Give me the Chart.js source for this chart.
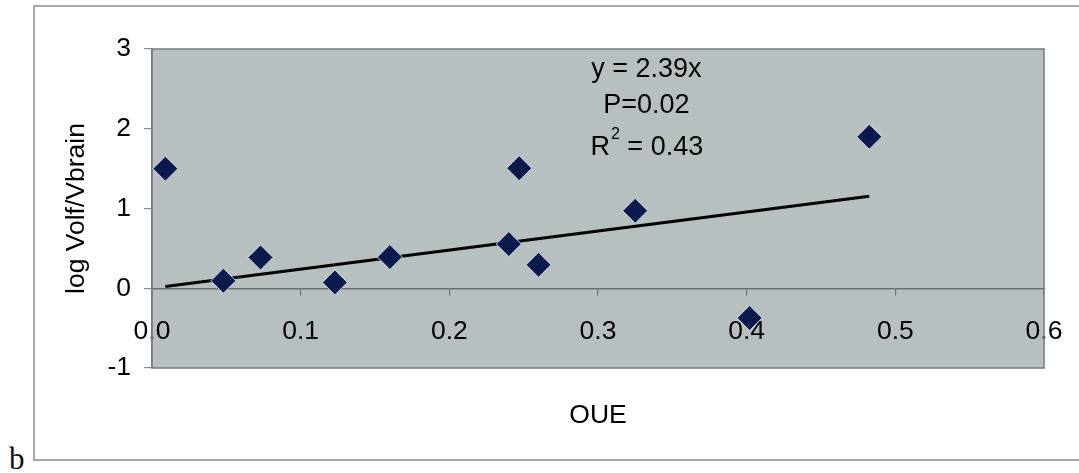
<!DOCTYPE html>
<html><head><meta charset="utf-8">
<script src="https://cdn.jsdelivr.net/npm/chart.js@4/dist/chart.umd.min.js"></script>
<style>
html,body{margin:0;padding:0;background:#fff;overflow:hidden;width:1079px;height:473px;}
#frame{position:absolute;left:33px;top:5px;width:1100px;height:456px;border:2px solid #a8a8a8;border-right:none;box-sizing:border-box;}
#lbl{position:absolute;left:9px;top:443px;font-family:'Liberation Serif','Times New Roman',serif;font-size:31px;line-height:31px;color:#111;}
canvas{position:absolute;left:0;top:0;}
</style></head><body>
<div id="frame"></div>
<div id="lbl">b</div>
<canvas id="c" width="1079" height="473" style="width:1079px;height:473px"></canvas>
<script>
// Data
const oueValues     = [0.009, 0.048, 0.073, 0.123, 0.160, 0.240, 0.247, 0.260, 0.325, 0.402, 0.4825];
const logVolfValues = [1.50, 0.094, 0.386, 0.073, 0.391, 0.554, 1.506, 0.294, 0.971, -0.373, 1.90];
const trendSlope = 2.39;
const xTickLabels = ['0.0', '0.1', '0.2', '0.3', '0.4', '0.5', '0.6'];
const yTickLabels = ['-1', '0', '1', '2', '3'];
const annotationLines = ['y = 2.39x', 'P=0.02', 'R2 = 0.43'];
const xTitle = 'OUE';
const yTitle = 'log Volf/Vbrain';

const FONT = "'Liberation Sans', Arial, Helvetica, sans-serif";
Chart.defaults.font.family = FONT;
Chart.defaults.color = '#000';

const xMinData = Math.min(...oueValues), xMaxData = Math.max(...oueValues);
const trendPoints = [
  {x: xMinData, y: trendSlope * xMinData},
  {x: xMaxData, y: trendSlope * xMaxData}
];

const plotPlugin = {
  id: 'plotArea',
  beforeDraw(chart) {
    const {ctx, chartArea: a} = chart;
    ctx.save();
    ctx.fillStyle = '#b8bfc1';
    ctx.fillRect(a.left, a.top, a.right - a.left, a.bottom - a.top);
    ctx.restore();
  },
  beforeDatasetsDraw(chart) {
    const {ctx, chartArea: a} = chart;
    ctx.save();
    ctx.strokeStyle = '#7a7a7a';
    ctx.lineWidth = 1.5;
    ctx.strokeRect(a.left, a.top, a.right - a.left, a.bottom - a.top);
    ctx.restore();
  },
  afterDraw(chart) {
    const {ctx} = chart;
    const xs = chart.scales.x, ys = chart.scales.y;
    const cx = xs.getPixelForValue(0.3325);
    const rowsY = [2.74, 2.29, 1.77].map(v => ys.getPixelForValue(v));
    ctx.save();
    ctx.fillStyle = '#000';
    ctx.textBaseline = 'middle';
    ctx.font = `27px ${FONT}`;
    ctx.textAlign = 'center';
    ctx.fillText(annotationLines[0], cx, rowsY[0]);
    ctx.fillText(annotationLines[1], cx, rowsY[1]);
    // R² line with superscript
    const t = annotationLines[2];
    const base = t.charAt(0), sup = t.charAt(1), rest = t.slice(2);
    ctx.textAlign = 'left';
    ctx.font = `27px ${FONT}`;
    const wB = ctx.measureText(base).width, wR = ctx.measureText(rest).width;
    ctx.font = `16px ${FONT}`;
    const wS = ctx.measureText(sup).width;
    let x0 = cx - (wB + wS + wR) / 2;
    ctx.font = `27px ${FONT}`;
    ctx.fillText(base, x0, rowsY[2]);
    ctx.font = `16px ${FONT}`;
    ctx.fillText(sup, x0 + wB + 1, rowsY[2] - 12);
    ctx.font = `27px ${FONT}`;
    ctx.fillText(rest, x0 + wB + wS + 1, rowsY[2]);
    ctx.restore();
  }
};

new Chart(document.getElementById('c'), {
  type: 'scatter',
  data: {
    datasets: [
      {
        label: 'data',
        data: oueValues.map((x, i) => ({x, y: logVolfValues[i]})),
        pointStyle: 'rectRot',
        pointRadius: 12.5,
        pointHoverRadius: 12.5,
        backgroundColor: '#0b1a4d',
        borderColor: 'rgba(225,232,238,0.85)',
        borderWidth: 1,
        order: 0
      },
      {
        type: 'line',
        label: 'trend',
        data: trendPoints,
        borderColor: '#000',
        borderWidth: 3.2,
        pointRadius: 0,
        fill: false,
        order: 1
      }
    ]
  },
  options: {
    responsive: false,
    animation: false,
    events: [],
    layout: {padding: {left: 0, top: 49, right: 35, bottom: 0}},
    plugins: {
      legend: {display: false},
      tooltip: {enabled: false},
      title: {
        display: true,
        position: 'bottom',
        fullSize: false,
        text: xTitle,
        color: '#000',
        font: {size: 26.5, weight: 'normal', family: FONT},
        padding: {top: 32.1, bottom: 41.1}
      }
    },
    scales: {
      x: {
        type: 'linear',
        position: {y: 0},
        min: 0, max: 0.6,
        afterBuildTicks(scale) {
          scale.ticks = xTickLabels.map(s => ({value: parseFloat(s)}));
        },
        afterFit(scale) { scale.paddingLeft = 0; scale.paddingRight = 0; scale.paddingTop = 0; scale.paddingBottom = 0; },
        ticks: {
          padding: 22,
          maxRotation: 0,
          autoSkip: false,
          font: {size: 26.5},
          color: '#000',
          callback: (v, i) => xTickLabels[i]
        },
        grid: {drawOnChartArea: false, drawTicks: true, tickLength: 6, color: '#6e6e6e', lineWidth: 1.2},
        border: {display: true, color: '#6e6e6e', width: 1.5}
      },
      y: {
        type: 'linear',
        position: 'left',
        min: -1, max: 3,
        afterBuildTicks(scale) {
          scale.ticks = yTickLabels.map(s => ({value: parseFloat(s)}));
        },
        afterFit(scale) { scale.width = 152; scale.paddingTop = 0; scale.paddingBottom = 0; },
        ticks: {
          padding: 13,
          font: {size: 26.5},
          color: '#000',
          callback: (v, i) => yTickLabels[i]
        },
        title: {
          display: true,
          text: yTitle,
          color: '#000',
          font: {size: 26.5, family: FONT},
          padding: {top: 61.1, bottom: 0}
        },
        grid: {drawOnChartArea: false, drawTicks: true, tickLength: 8, color: '#8a8a8a', lineWidth: 1.2},
        border: {display: true, color: '#7a7a7a', width: 1.5}
      }
    }
  },
  plugins: [plotPlugin]
});
</script>
</body></html>
